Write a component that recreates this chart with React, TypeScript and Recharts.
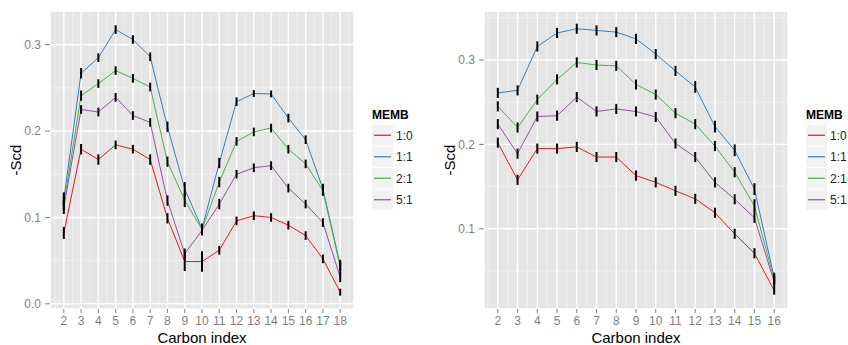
import React from 'react';
import { LineChart, Line, XAxis, YAxis, CartesianGrid, ErrorBar } from 'recharts';

// order parameter profiles, two membrane systems
const membLabels = ['1:0', '1:1', '2:1', '5:1'];
const membColors = ['#E41A1C', '#377EB8', '#4DAF4A', '#984EA3'];

const carbonLeft = [2, 3, 4, 5, 6, 7, 8, 9, 10, 11, 12, 13, 14, 15, 16, 17, 18];
const leftMemb10 = [0.082, 0.179, 0.167, 0.184, 0.179, 0.167, 0.099, 0.049, 0.049, 0.062, 0.096, 0.102, 0.1, 0.091, 0.079, 0.052, 0.0135];
const leftMemb11 = [0.121, 0.267, 0.285, 0.3175, 0.306, 0.286, 0.205, 0.133, 0.087, 0.163, 0.234, 0.2435, 0.243, 0.215, 0.19, 0.133, 0.045];
const leftMemb21 = [0.116, 0.241, 0.255, 0.27, 0.261, 0.251, 0.1645, 0.12, 0.086, 0.141, 0.188, 0.199, 0.2035, 0.179, 0.162, 0.131, 0.043];
const leftMemb51 = [0.112, 0.225, 0.222, 0.239, 0.218, 0.21, 0.1195, 0.058, 0.085, 0.1155, 0.15, 0.1575, 0.16, 0.134, 0.1155, 0.094, 0.031];
const leftErr10 = [0.007, 0.006, 0.006, 0.005, 0.005, 0.006, 0.006, 0.011, 0.012, 0.005, 0.005, 0.005, 0.005, 0.005, 0.005, 0.005, 0.004];
const leftErr11 = [0.008, 0.006, 0.005, 0.005, 0.005, 0.005, 0.006, 0.008, 0.006, 0.006, 0.005, 0.004, 0.004, 0.005, 0.005, 0.006, 0.006];
const leftErr21 = [0.008, 0.006, 0.005, 0.005, 0.005, 0.005, 0.006, 0.008, 0.006, 0.006, 0.005, 0.005, 0.005, 0.005, 0.005, 0.006, 0.006];
const leftErr51 = [0.008, 0.005, 0.005, 0.005, 0.005, 0.005, 0.006, 0.006, 0.006, 0.006, 0.005, 0.005, 0.005, 0.005, 0.005, 0.005, 0.006];

const carbonRight = [2, 3, 4, 5, 6, 7, 8, 9, 10, 11, 12, 13, 14, 15, 16];
const rightMemb10 = [0.202, 0.158, 0.195, 0.195, 0.197, 0.185, 0.185, 0.163, 0.155, 0.145, 0.1355, 0.119, 0.094, 0.071, 0.027];
const rightMemb11 = [0.261, 0.264, 0.316, 0.332, 0.337, 0.335, 0.333, 0.325, 0.307, 0.287, 0.268, 0.221, 0.193, 0.147, 0.042];
const rightMemb21 = [0.245, 0.22, 0.253, 0.277, 0.297, 0.294, 0.293, 0.271, 0.259, 0.237, 0.224, 0.198, 0.167, 0.127, 0.04];
const rightMemb51 = [0.224, 0.189, 0.233, 0.234, 0.256, 0.239, 0.242, 0.239, 0.2325, 0.201, 0.185, 0.155, 0.135, 0.113, 0.037];
const rightErr10 = [0.006, 0.006, 0.006, 0.006, 0.006, 0.006, 0.006, 0.006, 0.006, 0.006, 0.006, 0.006, 0.006, 0.006, 0.005];
const rightErr11 = [0.006, 0.006, 0.006, 0.006, 0.006, 0.006, 0.006, 0.006, 0.006, 0.006, 0.007, 0.007, 0.007, 0.007, 0.006];
const rightErr21 = [0.006, 0.006, 0.006, 0.006, 0.006, 0.006, 0.006, 0.006, 0.006, 0.006, 0.006, 0.006, 0.006, 0.008, 0.006];
const rightErr51 = [0.006, 0.006, 0.006, 0.006, 0.006, 0.006, 0.006, 0.006, 0.006, 0.006, 0.006, 0.006, 0.006, 0.006, 0.006];

const leftYTicks = [0, 0.1, 0.2, 0.3];
const leftYMinor = [0.05, 0.15, 0.25];
const rightYTicks = [0.1, 0.2, 0.3];
const rightYMinor = [0.05, 0.15, 0.25, 0.35];

const seriesKeys = ['s10', 's11', 's21', 's51'];
const errKeys = ['e10', 'e11', 'e21', 'e51'];

const buildRows = (carbons: number[], series: number[][], errs: number[][]) =>
  carbons.map((c, i) => {
    const row: Record<string, number> = { c };
    seriesKeys.forEach((k, j) => {
      row[k] = series[j][i];
      row[errKeys[j]] = errs[j][i];
    });
    return row;
  });

const leftRows = buildRows(carbonLeft, [leftMemb10, leftMemb11, leftMemb21, leftMemb51], [leftErr10, leftErr11, leftErr21, leftErr51]);
const rightRows = buildRows(carbonRight, [rightMemb10, rightMemb11, rightMemb21, rightMemb51], [rightErr10, rightErr11, rightErr21, rightErr51]);

const FONT = '"Liberation Sans", Arial, Helvetica, sans-serif';
const GREY = '#7F7F7F';
const W = 424;
const H = 345;

const LegendBox = ({ x, y }: { x: number; y: number }) => (
  <g>
    <text x={x} y={y} fontSize={12} fontWeight="bold" fill="#000" fontFamily={FONT}>MEMB</text>
    {membLabels.map((lab, i) => {
      const top = y + 6.5 + i * 21.5;
      return (
        <g key={lab}>
          <rect x={x} y={top} width={21} height={20.5} fill="#F2F2F2" />
          <line x1={x + 2} x2={x + 19} y1={top + 10.25} y2={top + 10.25} stroke={membColors[i]} strokeWidth={1.2} />
          <text x={x + 24} y={top + 10.25} dy="0.36em" fontSize={12} fill="#222" fontFamily={FONT}>{lab}</text>
        </g>
      );
    })}
  </g>
);

interface PanelProps {
  rows: Record<string, number>[];
  carbons: number[];
  xDomain: [number, number];
  yDomain: [number, number];
  yTicks: number[];
  yMinor: number[];
}

const Panel: React.FC<PanelProps> = ({ rows, carbons, xDomain, yDomain, yTicks, yMinor }) => {
  const xMinor = [1.5, ...carbons.map(c => c + 0.5)];
  return (
    <LineChart width={W} height={H} data={rows} margin={{ top: 11, right: 70, left: 0, bottom: 0 }} style={{ fontFamily: FONT }}>
      <CartesianGrid fill="#E5E5E5" stroke="#F2F2F2" strokeWidth={0.8} horizontalValues={yMinor} verticalValues={xMinor} />
      <CartesianGrid fill="none" stroke="#FFFFFF" strokeWidth={1.4} />
      <XAxis
        dataKey="c"
        type="number"
        domain={xDomain}
        ticks={carbons}
        interval={0}
        allowDataOverflow
        height={36}
        axisLine={false}
        tickSize={4}
        tickMargin={3}
        tickLine={{ stroke: GREY }}
        tick={{ fill: GREY, fontSize: 12 }}
        label={{ value: 'Carbon index', position: 'insideBottom', offset: 2, fill: '#000', fontSize: 15 }}
      />
      <YAxis
        type="number"
        domain={yDomain}
        ticks={yTicks}
        allowDataOverflow
        width={50}
        axisLine={false}
        tickSize={5}
        tickMargin={4}
        tickLine={{ stroke: GREY }}
        tick={{ fill: GREY, fontSize: 12 }}
        tickFormatter={(v: number) => v.toFixed(1)}
      />
      {seriesKeys.map((k, i) => (
        <Line key={k} dataKey={k} type="linear" stroke={membColors[i]} strokeWidth={1} dot={false} activeDot={false} isAnimationActive={false} />
      ))}
      {/* error bars on top of every line */}
      {seriesKeys.map((k, i) => (
        <Line key={`err-${k}`} dataKey={k} stroke="none" dot={false} activeDot={false} isAnimationActive={false} legendType="none">
          <ErrorBar dataKey={errKeys[i]} width={0} stroke="#000" strokeWidth={2} direction="y" isAnimationActive={false} />
        </Line>
      ))}
      <text x={15} y={160} transform="rotate(-90 15 160)" textAnchor="middle" dominantBaseline="central" fontSize={15} fill="#000" fontFamily={FONT}>-Scd</text>
      <LegendBox x={372} y={118.5} />
    </LineChart>
  );
};

export default function App() {
  return (
    <div style={{ position: 'absolute', left: 0, top: 0, width: 848, height: 345, background: '#fff' }}>
      <div style={{ position: 'absolute', left: 0, top: 0 }}>
        <Panel rows={leftRows} carbons={carbonLeft} xDomain={[1.2, 18.8]} yDomain={[-0.006, 0.339]} yTicks={leftYTicks} yMinor={leftYMinor} />
      </div>
      <div style={{ position: 'absolute', left: 434, top: 0 }}>
        <Panel rows={rightRows} carbons={carbonRight} xDomain={[1.3, 16.7]} yDomain={[0.005, 0.358]} yTicks={rightYTicks} yMinor={rightYMinor} />
      </div>
    </div>
  );
}
